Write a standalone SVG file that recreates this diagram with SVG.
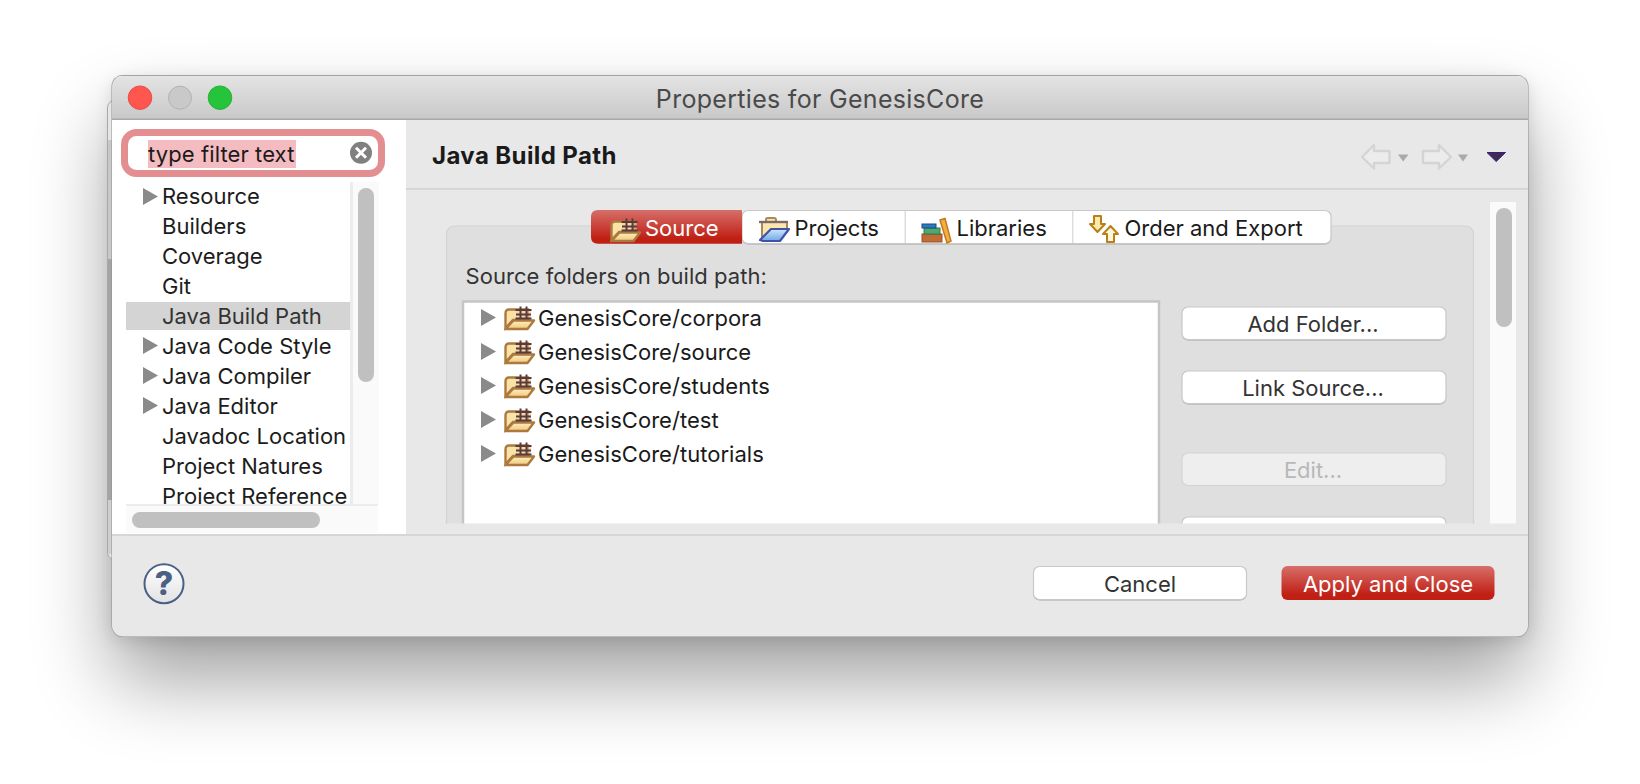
<svg xmlns="http://www.w3.org/2000/svg" xmlns:xlink="http://www.w3.org/1999/xlink" width="1640" height="784" viewBox="0 0 1640 784">
<style>
text{font-family:Inter,"Noto Sans","Liberation Sans",sans-serif;font-size:22px;fill:#1a1a1a}
.tree{fill:#1c1c1c}
.mid{text-anchor:middle}
.tri{fill:#8a8a8a}
.dim{fill:#333}
.thumb{fill:#c0c0c0}
.track{fill:#fafafa}
.btn{fill:#fff;stroke:#c8c8c8;stroke-width:1.200}
.bsh{fill:#a8a8a8}
.arrow{fill:#ececec;stroke:#d4d4d4;stroke-width:2.400;stroke-linejoin:round}
.small{fill:#aaa}
</style>
<defs>
<filter id="sh" x="-20%" y="-40%" width="140%" height="190%"><feGaussianBlur stdDeviation="40"/></filter>
<filter id="sh2" x="-5%" y="-10%" width="110%" height="120%"><feGaussianBlur stdDeviation="9"/></filter>
<linearGradient id="tb" x1="0" y1="0" x2="0" y2="1"><stop offset="0" stop-color="#e4e4e4"/><stop offset="1" stop-color="#c8c8c8"/></linearGradient>
<linearGradient id="red" x1="0" y1="0" x2="0" y2="1"><stop offset="0" stop-color="#d66f6a"/><stop offset=".85" stop-color="#c01f14"/><stop offset="1" stop-color="#c01f14"/></linearGradient>
<linearGradient id="fold" x1="0" y1="0" x2="0" y2="1"><stop offset="0" stop-color="#fdefc6"/><stop offset="1" stop-color="#f2c878"/></linearGradient>
<linearGradient id="fblue" x1="0" y1="0" x2="0" y2="1"><stop offset="0" stop-color="#cfe6fb"/><stop offset="1" stop-color="#6fa6e6"/></linearGradient>
<linearGradient id="help" x1="0" y1="0" x2="0" y2="1"><stop offset="0" stop-color="#fff"/><stop offset="1" stop-color="#e2e2e2"/></linearGradient>
<clipPath id="clipTree"><rect x="126" y="182" width="224" height="322"/></clipPath>
<clipPath id="clipBody"><rect x="406" y="190" width="1122" height="333.500"/></clipPath>
<clipPath id="win"><rect x="112" y="75.500" width="1416" height="561" rx="11"/></clipPath>
<symbol id="srcFolder" overflow="visible">
<path d="M1.500 22V7.500Q1.500 3.500 5 3.500H24V14H9Z" fill="#fbe3a8" stroke="#ac7a3e" stroke-width="2.400"/>
<path d="M1.500 23L9.500 14.500H30L23.500 23Z" fill="url(#fold)" stroke="#ac7a3e" stroke-width="2.400" stroke-linejoin="round"/>
<rect x="12" y="3.500" width="15" height="9" fill="#e9d3a8" opacity=".6"/>
<path d="M11.500 4H27.500M12 8.500H27M11.500 12.500H27.500M16.500 .5V12.500M22.500 .5V12.500" stroke="#5b3a3a" stroke-width="2" fill="none"/>
</symbol>
<polygon id="t" points="0,0 15,8.500 0,17"/>
</defs>

<g id="background">
<rect width="1640" height="784" fill="#fff"/>
<rect x="112" y="119" width="1416" height="561" rx="12" fill="#000" opacity=".37" filter="url(#sh)"/>
<rect x="112" y="80" width="1416" height="560" rx="12" fill="#000" opacity=".13" filter="url(#sh2)"/>
<rect x="107.500" y="100" width="30" height="460" rx="8" fill="#e6e6e6" stroke="#a8a8a8" stroke-width="1"/>
<rect x="108" y="140" width="4" height="119" fill="#c8c8c8"/>
<rect x="108" y="259" width="4" height="241" fill="#a4a4a4"/>
<rect x="108" y="500" width="4" height="54" fill="#cfcfcf"/>
</g>

<g id="window">
<rect x="111.500" y="75" width="1417" height="562" rx="11.500" fill="#8f8f8f"/>
<g clip-path="url(#win)">
<rect x="112" y="120" width="1416" height="517" fill="#e8e8e8"/>
<rect x="112" y="75.500" width="1416" height="44" fill="url(#tb)"/>
<rect x="112" y="118.500" width="1416" height="1.500" fill="#a8a8a8"/>
<rect x="112" y="120" width="294" height="414" fill="#fff"/>
<rect x="406" y="188" width="1122" height="1.800" fill="#d4d4d4"/>
<rect x="112" y="534" width="1416" height="2" fill="#d6d6d6"/>
</g>
</g>

<g id="window-buttons">
<circle cx="140" cy="97.700" r="11.800" fill="#ff5650" stroke="#e0443e" stroke-width=".8"/>
<circle cx="180" cy="97.700" r="11.500" fill="#c9c9c9" stroke="#b2b2b2" stroke-width="1"/>
<circle cx="220" cy="97.700" r="11.800" fill="#25c43a" stroke="#1aab29" stroke-width=".8"/>
</g>
<text id="title" x="820" y="108" class="mid" style="fill:#4a4a4a;font-size:25px;letter-spacing:.3px">Properties for GenesisCore</text>

<g id="filter-box">
<rect x="124.500" y="132.500" width="257" height="41" rx="12" fill="#fff" stroke="#e38f91" stroke-width="7"/>
<rect x="148" y="140" width="148" height="28" fill="#f4bcc0"/>
<text x="148" y="161.500" style="letter-spacing:.1px">type filter text</text>
<circle cx="361" cy="152.700" r="11" fill="#808080"/>
<path d="M356 147.700L366 157.700M366 147.700L356 157.700" stroke="#fff" stroke-width="3"/>
</g>

<g id="tree">
<rect x="126" y="302" width="224" height="28" fill="#d4d4d4"/>
<g clip-path="url(#clipTree)">
<text x="162" y="204.300" class="tree">Resource</text>
<text x="162" y="234.300" class="tree">Builders</text>
<text x="162" y="264.300" class="tree">Coverage</text>
<text x="162" y="294.300" class="tree">Git</text>
<text x="162" y="324.300" class="dim">Java Build Path</text>
<text x="162" y="354.300" class="tree">Java Code Style</text>
<text x="162" y="384.300" class="tree">Java Compiler</text>
<text x="162" y="414.300" class="tree">Java Editor</text>
<text x="162" y="444.300" class="tree">Javadoc Location</text>
<text x="162" y="474.300" class="tree">Project Natures</text>
<text x="162" y="504.300" class="tree">Project Reference</text>
</g>
<use xlink:href="#t" href="#t" x="143" y="188" class="tri"/>
<use xlink:href="#t" href="#t" x="143" y="337" class="tri"/>
<use xlink:href="#t" href="#t" x="143" y="367" class="tri"/>
<use xlink:href="#t" href="#t" x="143" y="397" class="tri"/>
<rect x="350" y="182" width="29" height="322" class="track"/>
<rect x="350" y="182" width="3" height="322" fill="#ececec"/>
<rect x="358" y="188" width="16" height="194" rx="8" class="thumb"/>
<rect x="126" y="504" width="252" height="29" class="track"/>
<rect x="126" y="504" width="252" height="2" fill="#ececec"/>
<rect x="132" y="512" width="188" height="16" rx="8" class="thumb"/>
</g>

<g id="heading">
<text x="432" y="164" style="font-weight:700;font-size:24px;letter-spacing:.4px">Java Build Path</text>
<path class="arrow" d="M1362 157L1374 145V151H1389.500V163H1374V168.500Z"/>
<polygon class="small" points="1398,154.500 1408.500,154.500 1403.200,161.500"/>
<path class="arrow" d="M1451 157L1439 145V151H1423V163H1439V168.500Z"/>
<polygon class="small" points="1458,154.500 1468,154.500 1463,161.500"/>
<polygon points="1487,152.500 1505.500,152.500 1496.200,161.500" fill="#3d2e4c" stroke="#3a1a8a" stroke-width="1"/>
</g>

<g id="content" clip-path="url(#clipBody)">
<rect x="446.500" y="226" width="1027" height="330" rx="8" fill="#dfdfdf" stroke="#d2d2d2" stroke-width="1.200"/>
<rect x="1490" y="202" width="26" height="330" class="track"/>
<rect x="1496" y="208" width="16" height="119" rx="8" class="thumb"/>
<text x="465.500" y="284" class="dim" style="letter-spacing:.05px">Source folders on build path:</text>
<g id="source-list">
<rect x="463" y="301.500" width="696" height="260" fill="#fff" stroke="#c5c5c5" stroke-width="2.500"/>
<use xlink:href="#t" href="#t" x="481" y="309" class="tri"/>
<use xlink:href="#t" href="#t" x="481" y="343" class="tri"/>
<use xlink:href="#t" href="#t" x="481" y="377" class="tri"/>
<use xlink:href="#t" href="#t" x="481" y="411" class="tri"/>
<use xlink:href="#t" href="#t" x="481" y="445" class="tri"/>
<use xlink:href="#srcFolder" href="#srcFolder" x="504" y="306"/>
<use xlink:href="#srcFolder" href="#srcFolder" x="504" y="340"/>
<use xlink:href="#srcFolder" href="#srcFolder" x="504" y="374"/>
<use xlink:href="#srcFolder" href="#srcFolder" x="504" y="408"/>
<use xlink:href="#srcFolder" href="#srcFolder" x="504" y="442"/>
<text x="538" y="326" style="letter-spacing:.03px">GenesisCore/corpora</text>
<text x="538" y="360" style="letter-spacing:.03px">GenesisCore/source</text>
<text x="538" y="394" style="letter-spacing:.03px">GenesisCore/students</text>
<text x="538" y="428" style="letter-spacing:.03px">GenesisCore/test</text>
<text x="538" y="462" style="letter-spacing:.03px">GenesisCore/tutorials</text>
</g>
<g id="btn-add"><rect x="1182" y="308" width="264" height="32.500" rx="6" class="bsh"/><rect x="1182" y="307" width="264" height="32.500" rx="6" class="btn"/><text x="1313" y="331.700" class="mid dim">Add Folder...</text></g>
<g id="btn-link"><rect x="1182" y="372" width="264" height="32.500" rx="6" class="bsh"/><rect x="1182" y="371" width="264" height="32.500" rx="6" class="btn"/><text x="1313" y="395.700" class="mid dim">Link Source...</text></g>
<g id="btn-edit"><rect x="1182" y="453" width="264" height="32.500" rx="6" fill="#eeeeee" stroke="#d4d4d4" stroke-width="1.200"/><text x="1313" y="477.700" class="mid" style="fill:#b8b8b8">Edit...</text></g>
<g id="btn-next"><rect x="1182" y="517" width="264" height="32.500" rx="6" class="btn"/></g>
</g>

<g id="tabs">
<rect x="742" y="211.500" width="589" height="33" rx="6" class="bsh"/>
<rect x="742" y="210.500" width="589" height="33" rx="6" class="btn"/>
<rect x="904.500" y="211" width="1.500" height="32" fill="#dedede"/>
<rect x="1072" y="211" width="1.500" height="32" fill="#dedede"/>
<g id="tab-source">
<path d="M598 210H742V243.800H598Q591 243.800 591 237V217Q591 210 598 210Z" fill="url(#red)"/>
<use xlink:href="#srcFolder" href="#srcFolder" x="610" y="218"/>
<text x="645" y="236" style="fill:#fff">Source</text>
</g>
<g id="tab-projects">
<path d="M762 238V222H766V219Q766 218 768 218H774Q776 218 776 220V222H787V229" fill="#fbe6ae" stroke="#a88a5a" stroke-width="2"/>
<path d="M759 222H788" stroke="#7a6a6a" stroke-width="2.400"/>
<path d="M760 240L771 229H789L780 241H763Z" fill="url(#fblue)" stroke="#3f52a8" stroke-width="2.200" stroke-linejoin="round"/>
<text x="794.500" y="236">Projects</text>
</g>
<g id="tab-libraries">
<rect x="922" y="234" width="20" height="8" fill="#c26c34" stroke="#95502a" stroke-width="1"/>
<rect x="924" y="228" width="16" height="6" fill="#4fa86c" stroke="#2e7a48" stroke-width="1"/>
<rect x="922" y="224" width="14" height="4" fill="#2a7ac0" stroke="#1a4a80" stroke-width="1"/>
<path d="M940 220L945 218.500L951 241L947 243Z" fill="#eeb040" stroke="#c8761e" stroke-width="1.500"/>
<text x="956.500" y="236">Libraries</text>
</g>
<g id="tab-order">
<path d="M1094 216H1101V224H1105L1097.500 232L1090 224H1094Z" fill="#fde9a8" stroke="#b8801a" stroke-width="2" stroke-linejoin="round"/>
<path d="M1107 242H1114V234H1118L1110.500 226L1103 234H1107Z" fill="#fff6d8" stroke="#b8801a" stroke-width="2" stroke-linejoin="round"/>
<text x="1124.500" y="236">Order and Export</text>
</g>
</g>

<g id="footer">
<circle cx="164" cy="583.700" r="19.500" fill="url(#help)" stroke="#4a6186" stroke-width="2"/>
<text x="164" y="595" class="mid" style="fill:#4a6186;font-weight:800;font-size:32px">?</text>
<g id="btn-cancel"><rect x="1033.500" y="567.500" width="213" height="33" rx="6" class="bsh"/><rect x="1033.500" y="566.500" width="213" height="33" rx="6" class="btn"/><text x="1140" y="592" class="mid dim">Cancel</text></g>
<g id="btn-apply"><rect x="1281.500" y="566" width="213" height="34" rx="6" fill="url(#red)"/><text x="1388" y="592" class="mid" style="fill:#fff">Apply and Close</text></g>
</g>
</svg>
